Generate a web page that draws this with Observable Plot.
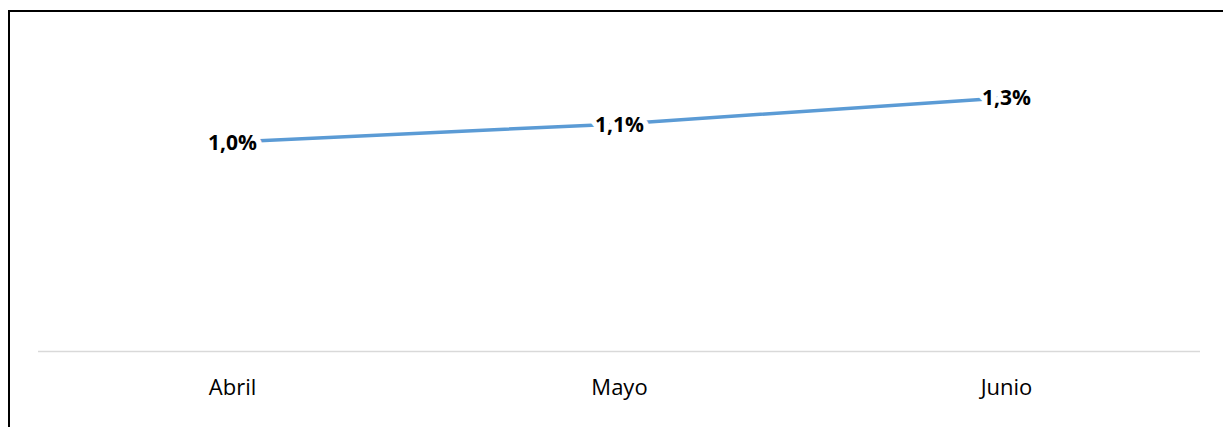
<!DOCTYPE html>
<html>
<head>
<meta charset="utf-8">
<script src="https://cdn.jsdelivr.net/npm/d3@7"></script>
<script src="https://cdn.jsdelivr.net/npm/@observablehq/plot@0.6"></script>
<style>
  html, body { margin: 0; padding: 0; background: #fff; overflow: hidden; width: 1223px; height: 427px; }
  #frame { position: absolute; left: 8px; top: 10px; width: 1300px; height: 500px; border-top: 2px solid #000; border-left: 2.5px solid #000; box-sizing: border-box; }
  #chart { position: absolute; left: 0; top: 0; }
</style>
</head>
<body>
<div id="frame"></div>
<div id="chart"></div>
<script>
const months = ["Abril", "Mayo", "Junio"];
const rates = [1.04, 1.13, 1.26];

const data = months.map((m, i) => ({ month: m, value: rates[i] }));
const fmt = v => v.toFixed(1).replace(".", ",") + "%";

const chart = Plot.plot({
  width: 1223,
  height: 427,
  marginLeft: 38,
  marginRight: 23,
  marginTop: 69,
  marginBottom: 76,
  style: { fontFamily: "'Open Sans', sans-serif", background: "transparent", overflow: "visible" },
  x: { type: "point", domain: months, padding: 0.5, label: null },
  y: { domain: [0, 1.4], axis: null },
  marks: [
    Plot.ruleY([0], { stroke: "#d9d9d9", strokeWidth: 1.5 }),
    Plot.axisX({ tickSize: 0, tickPadding: 28, fontSize: 22, fill: "#000", label: null }),
    Plot.line(data, { x: "month", y: "value", stroke: "#5b9bd5", strokeWidth: 3.5, strokeLinecap: "round" }),
    Plot.text(data, {
      x: "month", y: "value", text: d => fmt(d.value),
      fontSize: 21, fontWeight: "bold", fill: "#000",
      stroke: "white", strokeWidth: 11, strokeLinejoin: "round", dy: 1
    })
  ]
});
document.getElementById("chart").appendChild(chart);
</script>
</body>
</html>
